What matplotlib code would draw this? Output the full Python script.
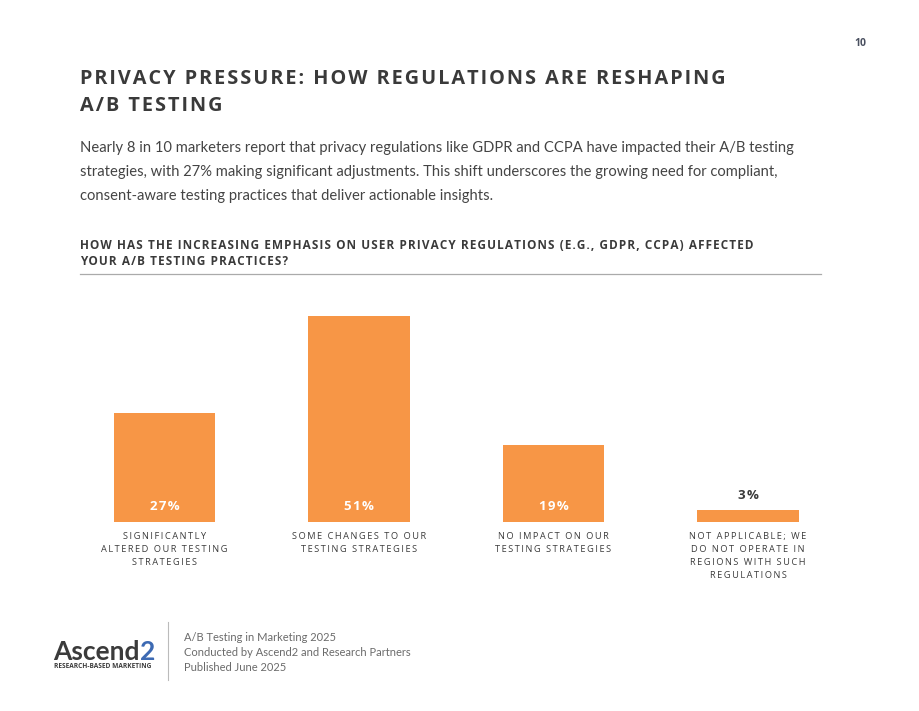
import matplotlib
matplotlib.use('Agg')
import matplotlib.pyplot as plt

# --- Datos ---
categories = [
    'SIGNIFICANTLY\nALTERED OUR TESTING\nSTRATEGIES',
    'SOME CHANGES TO OUR\nTESTING STRATEGIES',
    'NO IMPACT ON OUR\nTESTING STRATEGIES',
    'NOT APPLICABLE; WE\nDO NOT OPERATE IN\nREGIONS WITH SUCH\nREGULATIONS',
]
values = [27, 51, 19, 3]

title_lines = ['PRIVACY PRESSURE: HOW REGULATIONS ARE RESHAPING', 'A/B TESTING']
body_lines = [
    'Nearly 8 in 10 marketers report that privacy regulations like GDPR and CCPA have impacted their A/B testing',
    'strategies, with 27% making significant adjustments. This shift underscores the growing need for compliant,',
    'consent-aware testing practices that deliver actionable insights.',
]
question_lines = [
    'HOW HAS THE INCREASING EMPHASIS ON USER PRIVACY REGULATIONS (E.G., GDPR, CCPA) AFFECTED',
    'YOUR A/B TESTING PRACTICES?',
]
footer_lines = [
    'A/B Testing in Marketing 2025',
    'Conducted by Ascend2 and Research Partners',
    'Published June 2025',
]

ORANGE = '#f79646'
DARK = '#3a3a3a'
GRAY = '#6b6b6b'
W, H = 920, 711


def px(x, y):
    return x / W, 1 - y / H


def spaced(s, sep='\u200a'):
    # espaciado entre letras
    return '\n'.join(sep.join(line) for line in s.split('\n'))


fig = plt.figure(figsize=(W / 100, H / 100), dpi=100)
fig.patch.set_facecolor('white')

# --- Cabecera ---
fig.text(*px(860, 46), '10', fontsize=7.5, color='#4a5060', fontweight='bold',
         ha='center', va='baseline', family='Open Sans')
for i, line in enumerate(title_lines):
    fig.text(*px(80, 84 + 27 * i), spaced(line), fontsize=14.3, fontweight='bold',
             color=DARK, ha='left', va='baseline', family='Open Sans')
for i, line in enumerate(body_lines):
    fig.text(*px(80, 152 + 24 * i), line, fontsize=10.65, color='#444444',
             ha='left', va='baseline', family='Lato')
for i, line in enumerate(question_lines):
    fig.text(*px(80, 249 + 16 * i), spaced(line), fontsize=8.45, fontweight='bold',
             color=DARK, ha='left', va='baseline', family='Open Sans')
fig.add_artist(plt.Line2D([80 / W, 821 / W], [1 - 274 / H] * 2, color='#aaaaaa', lw=0.9))

# --- Gráfico ---
x0, x1, ytop, ybase = 80, 822, 300, 522
ax = fig.add_axes([x0 / W, 1 - ybase / H, (x1 - x0) / W, (ybase - ytop) / H])
pos = list(range(len(values)))
step = 194.5
ax.set_xlim(-(164.5 - x0) / step, 3 + (x1 - 748) / step)
ax.set_ylim(0, (ybase - ytop) / 4.04)
bars = ax.bar(pos, values, width=0.52, color=ORANGE)
ax.axis('off')

for b, v in zip(bars, values):
    cx = b.get_x() + b.get_width() / 2
    if v >= 10:
        ax.annotate(spaced(f'{v}%'), (cx, 0), xytext=(0, 16), textcoords='offset pixels',
                    ha='center', va='center', color='white', fontsize=9.5,
                    fontweight='bold', family='Open Sans')
    else:
        ax.annotate(spaced(f'{v}%'), (cx, v), xytext=(0, 14), textcoords='offset pixels',
                    ha='center', va='center', color=DARK, fontsize=9.5,
                    fontweight='bold', family='Open Sans')

for p, c in zip(pos, categories):
    ax.annotate(spaced(c, '\u2009'), (p, 0), xytext=(0, -10), textcoords='offset pixels',
                ha='center', va='top', color='#3d3d3d', fontsize=6.7,
                linespacing=1.55, family='Open Sans')

# --- Pie de página ---
logo = fig.text(*px(53, 660), 'Ascend', fontsize=19, fontweight='bold', color='#3b3b3b',
                ha='left', va='baseline', family='Lato')
fig.canvas.draw()
bb = logo.get_window_extent()
fig.text(bb.x1 / W + 0.001, 1 - 660 / H, '2', fontsize=19, fontweight='bold', color='#3d6ab3',
         ha='left', va='baseline', family='Lato')
fig.text(*px(103, 666), 'RESEARCH-BASED MARKETING', fontsize=4.7, fontweight='bold',
         color='#3b3b3b', ha='center', va='center', family='Open Sans')
fig.add_artist(plt.Line2D([168 / W] * 2, [1 - 622 / H, 1 - 680 / H], color='#bbbbbb', lw=0.8))
for i, line in enumerate(footer_lines):
    fig.text(*px(184, 641 + 15 * i), line, fontsize=8, color=GRAY,
             ha='left', va='baseline', family='Lato')

fig.savefig('out.png', dpi=100, facecolor='white')
